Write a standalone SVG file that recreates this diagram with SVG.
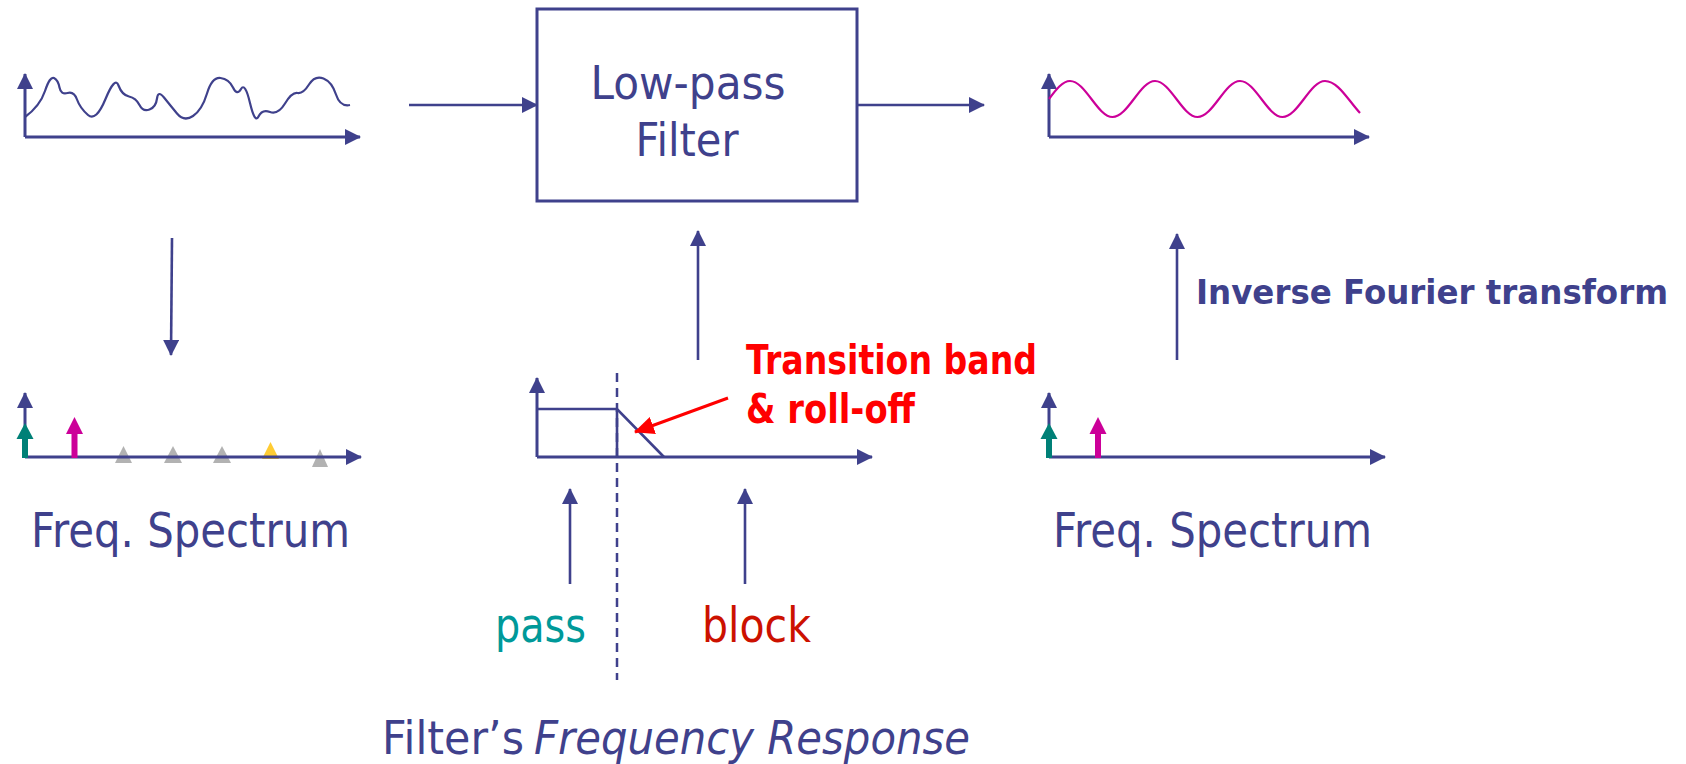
<svg xmlns="http://www.w3.org/2000/svg" width="1686" height="764" viewBox="0 0 1686 764">
<style>
.ax{stroke:#3f418c;stroke-width:3;fill:none}
.ln{stroke:#3f418c;stroke-width:2.6;fill:none}
.t{font-family:"DejaVu Sans","Liberation Sans",sans-serif;fill:#3f418c}
.b{font-weight:bold}
</style>
<defs>
<marker id="ah" viewBox="0 0 16 16" refX="15" refY="8" markerWidth="16" markerHeight="16" markerUnits="userSpaceOnUse" orient="auto">
<path d="M0,0 L16,8 L0,16 z" fill="#3f418c"/>
</marker>
<marker id="ahr" viewBox="0 0 20 18" refX="19" refY="9" markerWidth="20" markerHeight="18" markerUnits="userSpaceOnUse" orient="auto">
<path d="M0,0 L20,9 L0,18 z" fill="#ff0000"/>
</marker>
</defs>
<rect width="1686" height="764" fill="#ffffff"/>

<g id="signal-in">
<line class="ax" x1="25" y1="137" x2="25" y2="74" marker-end="url(#ah)"/>
<line class="ax" x1="25" y1="137" x2="360" y2="137" marker-end="url(#ah)"/>
<path d="M25,117 Q40,106 45,91 Q50,76 54,78 Q58,80 59.5,87.5 Q61,95 67.5,93 Q74,91 77,99.5 Q80,108 88,115 Q96,122 105.5,99 Q115,76 118.5,85.5 Q122,95 129,96.5 Q136,98 139.5,105 Q143,112 149.5,109.5 Q156,107 157,98.5 Q158,90 164,97.5 Q170,105 177,113.5 Q184,122 193,116 Q202,110 207,93.5 Q212,77 220.5,78 Q229,79 233,87.5 Q237,96 241,89 Q245,82 250,103 Q255,124 258.5,116.5 Q262,109 270,112 Q278,115 285,103.5 Q292,92 297.5,93 Q303,94 309,84.5 Q315,75 323.5,78.5 Q332,82 336,94.5 Q340,107 350,105" fill="none" stroke="#3f418c" stroke-width="2.2"/>
</g>

<g id="filter">
<rect x="537" y="9" width="320" height="192" fill="none" stroke="#3f418c" stroke-width="3"/>
<text class="t" x="688" y="99" font-size="47" text-anchor="middle" textLength="195" lengthAdjust="spacingAndGlyphs">Low-pass</text>
<text class="t" x="687" y="156" font-size="47" text-anchor="middle" textLength="103" lengthAdjust="spacingAndGlyphs">Filter</text>
</g>

<g id="signal-out">
<line class="ax" x1="1049" y1="137" x2="1049" y2="74" marker-end="url(#ah)"/>
<line class="ax" x1="1049" y1="137" x2="1369" y2="137" marker-end="url(#ah)"/>
<path d="M1049,99 C1055.9,89.8 1062.6,81 1070,81 C1085.5,81 1097.5,117 1112.5,117 C1128,117 1140,81 1155,81 C1170.5,81 1182.5,117 1197.5,117 C1213,117 1225,81 1240,81 C1255.5,81 1267.5,117 1282.5,117 C1298,117 1310,81 1325,81 C1338,81 1348,100 1360,113" fill="none" stroke="#cc0099" stroke-width="2.2"/>
</g>

<g id="spectrum-in">
<line class="ax" x1="25" y1="457" x2="25" y2="393" marker-end="url(#ah)"/>
<polygon points="115,463 123.5,446 132,463" fill="#b2b2b2"/>
<polygon points="164,463 173,446 182,463" fill="#b2b2b2"/>
<polygon points="213,463 222,446 231,463" fill="#b2b2b2"/>
<polygon points="262,459 270.5,442 279,459" fill="#ffcc33"/>
<polygon points="312,467 320,449 328,467" fill="#b2b2b2"/>
<line class="ax" x1="25" y1="457" x2="361" y2="457" marker-end="url(#ah)"/>
<polygon points="22,458 28,458 28,439 33.5,439 25,423 16.5,439 22,439" fill="#008077"/>
<polygon points="71.5,458 77.5,458 77.5,434 83,434 74.5,417 66,434 71.5,434" fill="#cc0099"/>
<text class="t" x="31" y="547" font-size="48" textLength="319" lengthAdjust="spacingAndGlyphs">Freq. Spectrum</text>
</g>

<g id="freq-response">
<line class="ax" x1="537" y1="457" x2="537" y2="378" marker-end="url(#ah)"/>
<line class="ax" x1="537" y1="457" x2="872" y2="457" marker-end="url(#ah)"/>
<polyline class="ln" points="537,409 617,409 664,457"/>
<line class="ln" x1="617" y1="409" x2="617" y2="457"/>
<line x1="617" y1="373" x2="617" y2="680" stroke="#3f418c" stroke-width="2.5" stroke-dasharray="9 6"/>
<text class="t" x="495" y="642" font-size="48" style="fill:#009999" textLength="91" lengthAdjust="spacingAndGlyphs">pass</text>
<text class="t" x="702" y="642" font-size="48" style="fill:#cc1100" textLength="109" lengthAdjust="spacingAndGlyphs">block</text>
<text class="t" x="382" y="754" font-size="47" textLength="142" lengthAdjust="spacingAndGlyphs">Filter’s</text>
<text class="t" x="534" y="754" font-size="47" font-style="italic" textLength="436" lengthAdjust="spacingAndGlyphs">Frequency Response</text>
</g>

<g id="transition-label">
<text class="t b" x="746" y="374" font-size="40" style="fill:#ff0000" textLength="291" lengthAdjust="spacingAndGlyphs">Transition band</text>
<text class="t b" x="746" y="423" font-size="40" style="fill:#ff0000" textLength="169" lengthAdjust="spacingAndGlyphs">&amp; roll-off</text>
</g>

<g id="spectrum-out">
<line class="ax" x1="1049" y1="457" x2="1049" y2="393" marker-end="url(#ah)"/>
<line class="ax" x1="1049" y1="457" x2="1385" y2="457" marker-end="url(#ah)"/>
<polygon points="1046,458 1052,458 1052,439 1057.5,439 1049,423 1040.5,439 1046,439" fill="#008077"/>
<polygon points="1095,458 1101,458 1101,434 1106.5,434 1098,417 1089.5,434 1095,434" fill="#cc0099"/>
<text class="t" x="1053" y="547" font-size="48" textLength="319" lengthAdjust="spacingAndGlyphs">Freq. Spectrum</text>
</g>

<g id="ift-label">
<text class="t b" x="1196" y="304" font-size="33" textLength="472" lengthAdjust="spacingAndGlyphs">Inverse Fourier transform</text>
</g>

<g id="connectors">
<line class="ln" x1="409" y1="105" x2="537" y2="105" marker-end="url(#ah)"/>
<line class="ln" x1="857" y1="105" x2="984" y2="105" marker-end="url(#ah)"/>
<line class="ln" x1="172" y1="238" x2="171" y2="355" marker-end="url(#ah)"/>
<line class="ln" x1="698" y1="360" x2="698" y2="231" marker-end="url(#ah)"/>
<line class="ln" x1="1177" y1="360" x2="1177" y2="234" marker-end="url(#ah)"/>
<line class="ln" x1="570" y1="584" x2="570" y2="489" marker-end="url(#ah)"/>
<line class="ln" x1="745" y1="584" x2="745" y2="489" marker-end="url(#ah)"/>
<line x1="728" y1="398" x2="635" y2="432" stroke="#ff0000" stroke-width="3" marker-end="url(#ahr)"/>
</g>
</svg>
